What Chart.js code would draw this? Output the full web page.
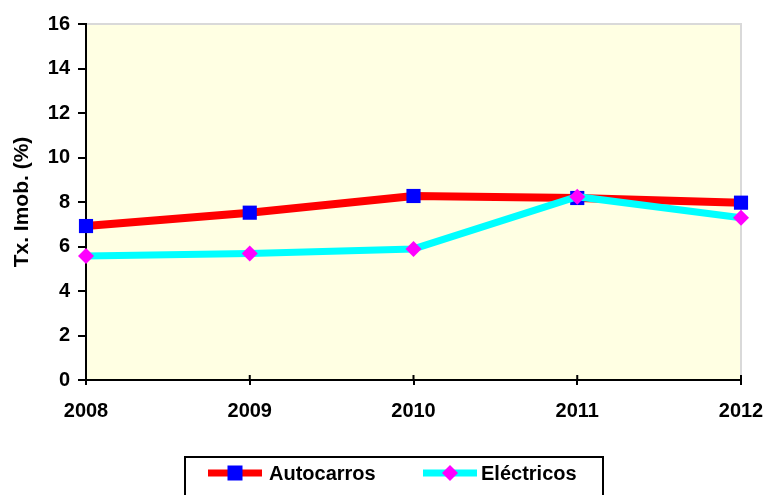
<!DOCTYPE html>
<html>
<head>
<meta charset="utf-8">
<script src="https://cdn.jsdelivr.net/npm/chart.js@4/dist/chart.umd.min.js"></script>
<style>
  html, body { margin: 0; padding: 0; background: #fff; }
</style>
</head>
<body>
<canvas id="chart" width="766" height="495"></canvas>
<script>
// Chart data
const years = ['2008', '2009', '2010', '2011', '2012'];
const autocarros = [6.92, 7.52, 8.27, 8.18, 7.97];
const electricos = [5.57, 5.69, 5.89, 8.24, 7.29];
const seriesNames = ['Autocarros', 'Eléctricos'];
const yMin = 0, yMax = 16, yStep = 2;
const yTitle = 'Tx. Imob. (%)';

const FONT = '"Liberation Sans", Arial, sans-serif';

// Background, plot frame, inner x tick marks and the boxed legend
const decor = {
  id: 'decor',
  beforeDraw(chart) {
    const { ctx, chartArea: a } = chart;
    ctx.save();
    ctx.fillStyle = '#FFFFE3';
    ctx.fillRect(a.left, a.top, a.right - a.left, a.bottom - a.top);
    ctx.strokeStyle = '#D9D9D9';
    ctx.lineWidth = 2;
    ctx.beginPath();
    ctx.moveTo(a.left, a.top);
    ctx.lineTo(a.right, a.top);
    ctx.lineTo(a.right, a.bottom);
    ctx.stroke();
    ctx.restore();
  },
  beforeDatasetsDraw(chart) {
    const { ctx, chartArea: a, scales } = chart;
    ctx.save();
    ctx.strokeStyle = '#000';
    ctx.lineWidth = 2;
    ctx.beginPath();
    years.forEach((y, i) => {
      const x = scales.x.getPixelForValue(i);
      ctx.moveTo(x, a.bottom - 5);
      ctx.lineTo(x, a.bottom);
    });
    ctx.stroke();
    ctx.restore();
  },
  afterDraw(chart) {
    const ctx = chart.ctx;
    ctx.save();
    // legend box
    ctx.strokeStyle = '#000';
    ctx.lineWidth = 2;
    ctx.strokeRect(185, 457, 418, 60);
    const y = 473;
    // Autocarros sample
    ctx.strokeStyle = '#FF0000';
    ctx.lineWidth = 7;
    ctx.beginPath(); ctx.moveTo(208, y); ctx.lineTo(262, y); ctx.stroke();
    ctx.fillStyle = '#0000FF';
    ctx.fillRect(235 - 7.5, y - 7.5, 15, 15);
    // Eléctricos sample
    ctx.strokeStyle = '#00FFFF';
    ctx.beginPath(); ctx.moveTo(423, y); ctx.lineTo(477, y); ctx.stroke();
    ctx.fillStyle = '#FF00FF';
    ctx.beginPath();
    ctx.moveTo(450, y - 8); ctx.lineTo(458, y); ctx.lineTo(450, y + 8); ctx.lineTo(442, y);
    ctx.closePath(); ctx.fill();
    // labels
    ctx.fillStyle = '#000';
    ctx.font = 'bold 20px ' + FONT;
    ctx.textBaseline = 'middle';
    ctx.textAlign = 'left';
    ctx.fillText(seriesNames[0], 269, y + 1);
    ctx.fillText(seriesNames[1], 481, y + 1);
    ctx.restore();
  }
};

new Chart(document.getElementById('chart').getContext('2d'), {
  type: 'line',
  data: {
    labels: years,
    datasets: [
      {
        label: seriesNames[0],
        data: autocarros,
        borderColor: '#FF0000',
        borderWidth: 8,
        pointStyle: 'rect',
        pointRadius: 10,
        pointBackgroundColor: '#0000FF',
        pointBorderWidth: 0,
        tension: 0,
        clip: false,
        order: 2
      },
      {
        label: seriesNames[1],
        data: electricos,
        borderColor: '#00FFFF',
        borderWidth: 7,
        pointStyle: 'rectRot',
        pointRadius: 8,
        pointBackgroundColor: '#FF00FF',
        pointBorderWidth: 0,
        tension: 0,
        clip: false,
        order: 1
      }
    ]
  },
  options: {
    responsive: false,
    animation: false,
    layout: { padding: { top: 24, right: 25, left: 0, bottom: 0 } },
    plugins: {
      legend: { display: false },
      tooltip: { enabled: false }
    },
    scales: {
      x: {
        offset: false,
        grid: { drawOnChartArea: false, drawTicks: true, tickLength: 5, color: '#000', lineWidth: 2 },
        border: { color: '#000', width: 2 },
        ticks: { color: '#000', font: { family: FONT, size: 20, weight: 'bold' }, padding: 14, maxRotation: 0 },
        afterFit(scale) {
          scale.height = 115;
          scale.paddingLeft = 0;
          scale.paddingRight = 0;
        }
      },
      y: {
        min: yMin,
        max: yMax,
        grid: { drawOnChartArea: false, drawTicks: true, tickLength: 8, color: '#000', lineWidth: 2 },
        border: { color: '#000', width: 2 },
        ticks: { stepSize: yStep, color: '#000', font: { family: FONT, size: 20, weight: 'bold' }, padding: 8 },
        title: { display: true, text: yTitle, color: '#000', font: { family: FONT, size: 21, weight: 'bold' }, padding: { top: 10, bottom: 0 } },
        afterFit(scale) {
          scale.width = 86;
          scale.paddingTop = 0;
          scale.paddingBottom = 0;
        }
      }
    }
  },
  plugins: [decor]
});
</script>
</body>
</html>
